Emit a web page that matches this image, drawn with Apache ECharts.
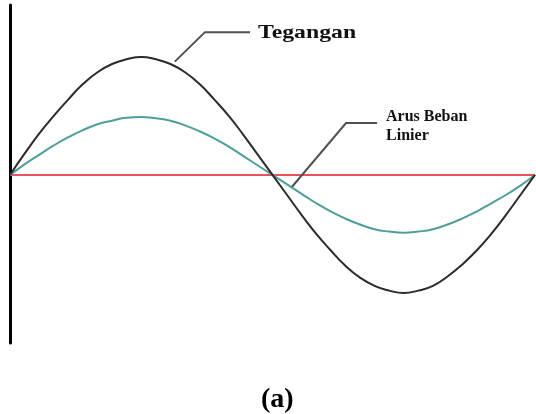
<!DOCTYPE html>
<html>
<head>
<meta charset="utf-8">
<script src="https://cdn.jsdelivr.net/npm/echarts@6/dist/echarts.min.js"></script>
<style>html,body{margin:0;padding:0;background:#fff;}#c{width:536px;height:414px;}</style>
</head>
<body>
<div id="c"></div>
<script>
// Phase angle (degrees)
var angles = [0,10,20,30,40,50,60,70,80,90,100,110,120,130,140,150,160,170,180,190,200,210,220,230,240,250,260,270,280,290,300,310,320,330,340,350,360];
// Tegangan (voltage), normalised
var tegangan = [0,0.18,0.35,0.50,0.64,0.77,0.87,0.94,0.98,1.0,0.98,0.94,0.87,0.77,0.64,0.50,0.34,0.17,0,-0.17,-0.34,-0.50,-0.64,-0.77,-0.87,-0.94,-0.98,-1.0,-0.98,-0.94,-0.86,-0.76,-0.64,-0.50,-0.34,-0.17,0];
// Arus Beban Linier (linear load current), normalised
var arus = [0,0.09,0.17,0.25,0.32,0.38,0.43,0.46,0.485,0.49,0.48,0.46,0.42,0.37,0.31,0.24,0.16,0.08,0,-0.08,-0.16,-0.24,-0.31,-0.37,-0.42,-0.46,-0.48,-0.49,-0.48,-0.46,-0.42,-0.37,-0.31,-0.24,-0.17,-0.09,0];
// Zero reference line
var nolX = [0,360];
var nolY = [0,0];
// Labels
var labelTegangan = 'Tegangan';
var labelArus = ['Arus Beban','Linier'];
var caption = '(a)';
// Callout paths in data coordinates [angle, value]
var calloutTegangan = [[113,0.96],[133.7,1.21],[164.6,1.21]];
var calloutArus = [[193.4,-0.10],[230.4,0.44],[251.7,0.44]];

function pairs(xs, ys){ return xs.map(function(x,i){return [x, ys[i]];}); }

var chart = echarts.init(document.getElementById('c'), null, {renderer:'canvas'});
var option = {
  backgroundColor:'#ffffff',
  animation:false,
  title:{text:caption,left:256,top:381,textStyle:{fontFamily:'Liberation Serif',fontWeight:'bold',fontSize:28,color:'#000'}},
  grid:{left:10,right:1,top:5,bottom:71},
  xAxis:{type:'value',min:0,max:360,show:true,axisLine:{show:false},axisTick:{show:false},axisLabel:{show:false},splitLine:{show:false}},
  yAxis:{type:'value',min:-1.424,max:1.44,axisLine:{show:true,onZero:false,lineStyle:{color:'#000',width:3}},axisTick:{show:false},axisLabel:{show:false},splitLine:{show:false}},
  series:[
    {type:'line',data:pairs(nolX,nolY),symbol:'none',lineStyle:{color:'#e5535c',width:2},z:1},
    {type:'line',data:pairs(angles,arus),smooth:0.5,symbol:'none',lineStyle:{color:'#4e9e9a',width:2},z:2},
    {type:'line',data:pairs(angles,tegangan),smooth:0.5,symbol:'none',lineStyle:{color:'#2b2b2b',width:2},z:3}
  ]
};
chart.setOption(option);

function toPx(p){ return chart.convertToPixel({gridIndex:0}, p); }
var pT = calloutTegangan.map(toPx);
var pA = calloutArus.map(toPx);
chart.setOption({
  graphic:[
    {type:'polyline',shape:{points:pT},style:{stroke:'#505050',lineWidth:2,fill:null},z:10},
    {type:'polyline',shape:{points:pA},style:{stroke:'#505050',lineWidth:2,fill:null},z:10},
    {type:'text',x:pT[2][0]+8,y:pT[2][1]+1,scaleX:1.25,style:{text:labelTegangan,font:'bold 19px "Liberation Serif"',fill:'#111',verticalAlign:'middle',align:'left'},z:10},
    {type:'text',x:pA[2][0]+9,y:pA[2][1]-6,style:{text:labelArus[0],font:'bold 16px "Liberation Serif"',fill:'#111',verticalAlign:'middle',align:'left'},z:10},
    {type:'text',x:pA[2][0]+9,y:pA[2][1]+13,style:{text:labelArus[1],font:'bold 16px "Liberation Serif"',fill:'#111',verticalAlign:'middle',align:'left'},z:10}
  ]
});
</script>
</body>
</html>
